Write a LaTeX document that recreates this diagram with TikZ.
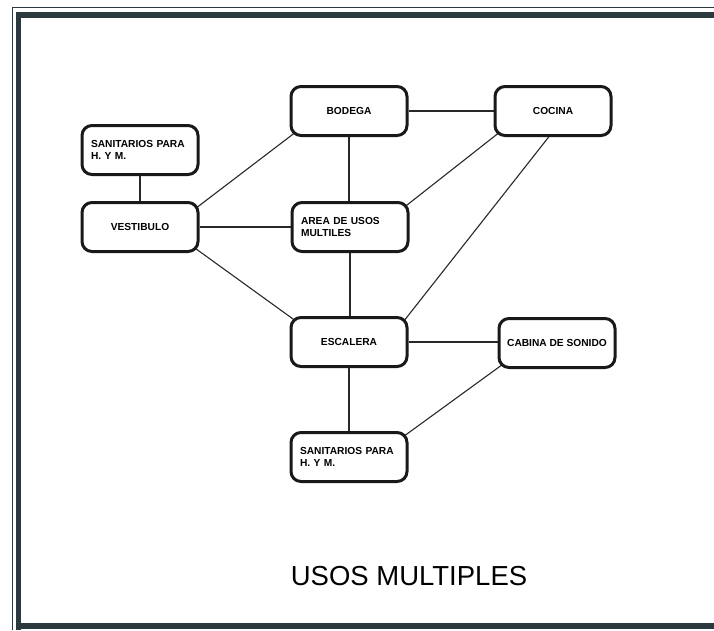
\documentclass[tikz,border=0pt]{standalone}
\usepackage{fontspec}
\setmainfont{Liberation Sans}
\usetikzlibrary{calc}
\pgfdeclarelayer{bg}
\pgfsetlayers{bg,main}
\definecolor{framec}{RGB}{44,58,64}
\definecolor{linec}{RGB}{40,40,40}
\tikzset{
  room/.style={draw=black!90, line width=3pt, rounded corners=10pt, fill=white,
    minimum width=116pt, minimum height=49pt, inner sep=2pt,
    font=\fontsize{10.2}{12.5}\selectfont\bfseries},
  roomleft/.style={room, text width=98pt, align=left},
  link/.style={draw=linec, line width=1.1pt},
  framethin/.style={draw=framec, line width=1.4pt},
  framethick/.style={fill=framec}
}
\begin{document}
\begin{tikzpicture}[x=1pt,y=-1pt]
\useasboundingbox (0,0) rectangle (714,630);
% frame
\draw[framethin] (12.5,630) -- (12.5,7.5) -- (714,7.5);
\fill[framethick] (16,12) rectangle (714,18);
\fill[framethick] (16,12) rectangle (21,630);
\fill[framethick] (16,623) rectangle (714,629);
% rooms
\node[roomleft] (san1) at (140,150) {SANITARIOS PARA\\H. Y M.};
\node[room] (vest) at (140,227) {VESTIBULO};
\node[room] (bodega) at (349,111) {BODEGA};
\node[room] (cocina) at (553,111) {COCINA};
\node[roomleft] (area) at (350,227) {AREA DE USOS\\MULTILES};
\node[room] (esc) at (349,342) {ESCALERA};
\node[room] (cab) at (557,343) {CABINA DE SONIDO};
\node[roomleft] (san2) at (349,457) {SANITARIOS PARA\\H. Y M.};
% title
\node[font=\fontsize{27.5}{30}\selectfont] (title) at (409,576) {USOS MULTIPLES};
% connectors
\begin{pgfonlayer}{bg}
\draw[link] (san1.south) -- (vest.north);
\draw[link] ($(vest.north east)+(-4,7.5)$) -- ($(bodega.south west)+(7,-5.5)$);
\draw[link] (vest.east) -- (vest.east -| area.west);
\draw[link] ($(vest.south east)+(-4,-4.5)$) -- ($(esc.north west)+(7,5.5)$);
\draw[link] (bodega.east) -- (bodega.east -| cocina.west);
\draw[link] (bodega.south) -- (bodega.south |- area.north);
\draw[link] ($(cocina.south west)+(7,-5.5)$) -- ($(area.north east)+(-5,6)$);
\draw[link] ($(cocina.south)+(0,-5.5)$) -- ($(esc.north east)+(-5,5.5)$);
\draw[link] (area.south) -- (area.south |- esc.north);
\draw[link] (esc.east) -- (esc.east -| cab.west);
\draw[link] (esc.south) -- (esc.south |- san2.north);
\draw[link] ($(cab.south west)+(5,-4.5)$) -- ($(san2.north east)+(-5,5.5)$);
\end{pgfonlayer}
\end{tikzpicture}
\end{document}
